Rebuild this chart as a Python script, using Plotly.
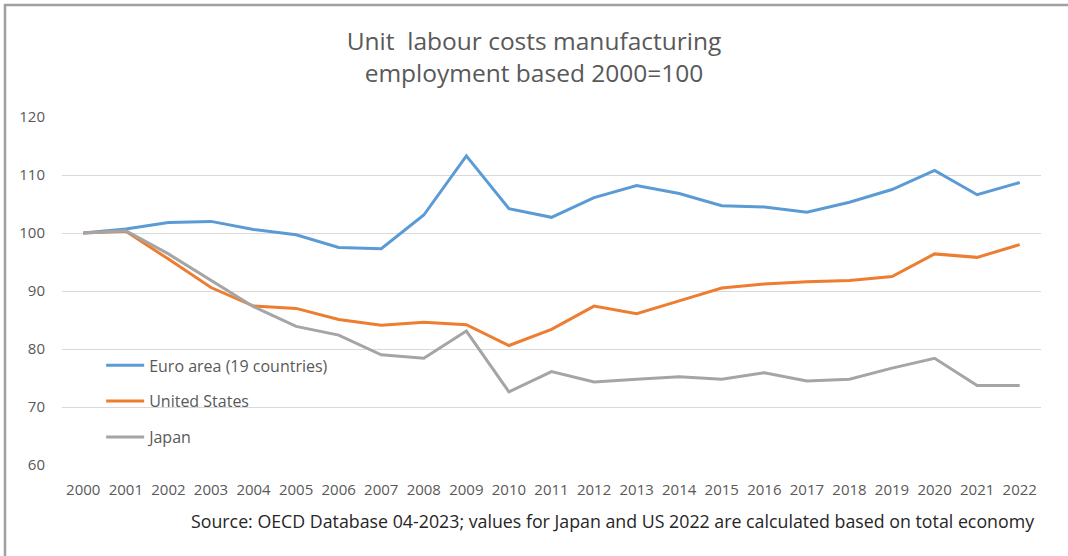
import plotly.graph_objects as go

years = list(range(2000, 2023))
euro = [100.0, 100.7, 101.8, 102.0, 100.6, 99.7, 97.5, 97.3, 103.1, 113.3, 104.2, 102.7,
        106.1, 108.2, 106.8, 104.7, 104.5, 103.6, 105.3, 107.5, 110.8, 106.6, 108.7]
us = [100.0, 100.3, 95.5, 90.6, 87.4, 87.0, 85.1, 84.1, 84.6, 84.2, 80.6, 83.4,
      87.4, 86.1, 88.3, 90.5, 91.2, 91.6, 91.8, 92.5, 96.4, 95.8, 98.0]
japan = [100.0, 100.4, 96.4, 91.8, 87.3, 83.9, 82.4, 79.0, 78.4, 83.1, 72.6, 76.1,
         74.3, 74.8, 75.2, 74.8, 75.9, 74.5, 74.8, 76.7, 78.4, 73.7, 73.7]

series_names = ["Euro area (19 countries)", "United States", "Japan"]
series_values = [euro, us, japan]
series_colors = ["#5B9BD5", "#ED7D31", "#A5A5A5"]

y_ticks = [60, 70, 80, 90, 100, 110, 120]

title_text = "Unit\u00a0 labour costs manufacturing<br>employment based 2000=100"
source_text = "Source: OECD Database 04-2023; values for Japan and US 2022 are calculated based on total economy"

FONT = "'Open Sans', Lato, sans-serif"

fig = go.Figure()
for i, (name, vals, col) in enumerate(zip(series_names, series_values, series_colors)):
    fig.add_trace(go.Scatter(
        x=years, y=vals, name=name, mode="lines",
        line=dict(color=col, width=3), legendgroup=f"g{i}",
    ))

fig.update_layout(
    width=1068, height=556,
    margin=dict(l=62, r=27, t=117, b=91),
    paper_bgcolor="white", plot_bgcolor="white",
    font=dict(family=FONT, size=15, color="#595959"),
    title=dict(text=title_text, x=0.5, xref="container", xanchor="center",
               y=1 - 50 / 556, yref="container", yanchor="middle",
               font=dict(size=24.5, color="#595959", family=FONT)),
    xaxis=dict(range=[1999.5, 2022.5], tickmode="array", tickvals=years,
               ticktext=[str(y) for y in years], showgrid=False, zeroline=False,
               showline=False, ticks="", ticklabelstandoff=14,
               tickfont=dict(size=15, color="#595959")),
    yaxis=dict(range=[60, 120], tickmode="array", tickvals=y_ticks, showgrid=True,
               gridcolor="#D9D9D9", gridwidth=1, zeroline=False, showline=False,
               ticks="", ticklabelstandoff=16, tickfont=dict(size=15, color="#595959")),
    legend=dict(x=0.040, y=0.335, xanchor="left", yanchor="top",
                bgcolor="rgba(0,0,0,0)", traceorder="grouped", tracegroupgap=12,
                itemwidth=38, font=dict(size=16, color="#595959")),
    shapes=[dict(type="rect", xref="paper", yref="paper",
                 x0=-57 / 979, x1=1021 / 979, y0=-100 / 348, y1=460 / 348,
                 line=dict(color="#A0A0A0", width=2.5), layer="below")],
    annotations=[dict(text=source_text, xref="paper", yref="paper", x=974 / 979,
                      y=-56 / 348, xanchor="right", yanchor="middle", showarrow=False,
                      font=dict(size=17.8, color="#262626", family=FONT))],
)

fig.write_html("out.html")
